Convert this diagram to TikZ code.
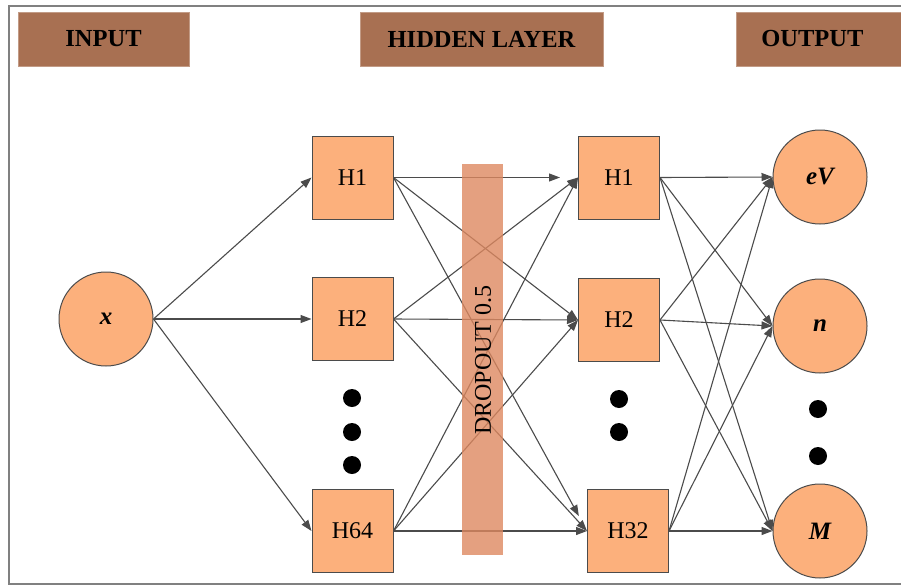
\documentclass[tikz,border=0pt]{standalone}
\usepackage{fontspec}
\setmainfont{Liberation Serif}
\usetikzlibrary{arrows.meta}
\definecolor{hdr}{RGB}{168,112,82}
\definecolor{nodefill}{RGB}{252,176,124}
\definecolor{barfill}{RGB}{221,136,96}
\definecolor{framegray}{RGB}{128,128,128}
\definecolor{linegray}{RGB}{75,75,75}
\tikzset{
  header/.style={fill=hdr, draw=hdr!70!white, line width=0.6pt, minimum height=54pt, inner sep=0pt, font=\fontsize{24.5}{26}\selectfont\bfseries, text=black},
  hbox/.style={rectangle, fill=nodefill, draw=linegray, line width=1pt, minimum width=81pt, minimum height=83pt, inner sep=0pt, font=\fontsize{24}{26}\selectfont},
  ocirc/.style={circle, fill=nodefill, draw=linegray, line width=1pt, minimum size=94pt, inner sep=0pt, font=\fontsize{25}{27}\selectfont\bfseries\itshape},
  conn/.style={draw=linegray, line width=1.1pt, -{Triangle[length=11pt,width=8pt]}},
  dotc/.style={circle, fill=black, minimum size=18pt, inner sep=0pt},
}
\begin{document}
\begin{tikzpicture}[x=1pt,y=-1pt]
\useasboundingbox (0,0) rectangle (901,586);
% frame
\draw[framegray, line width=2pt] (901,6) -- (9,6) -- (9,584) -- (901,584);
% headers
\node[header, minimum width=171pt] (hin) at (103.5,39) {INPUT};
\node[header, minimum width=243pt] (hhid) at (481.5,39) {HIDDEN LAYER};
\node[header, minimum width=170pt, anchor=west] (hout) at (736,39) {\hspace*{-18pt}OUTPUT};
% input
\node[ocirc] (x) at (106,319) {x};
% hidden layer 1
\node[hbox] (a1) at (352.5,177.5) {H1};
\node[hbox] (a2) at (352.5,319) {H2};
\node[hbox] (a3) at (352.5,531) {H64};
\node[dotc] (ad1) at (352,398) {};
\node[dotc] (ad2) at (352,432) {};
\node[dotc] (ad3) at (352,465) {};
% hidden layer 2
\node[hbox] (b1) at (619,177.5) {H1};
\node[hbox] (b2) at (619,320) {H2};
\node[hbox] (b3) at (628,531) {H32};
\node[dotc] (bd1) at (619,399) {};
\node[dotc] (bd2) at (619,432) {};
% output
\node[ocirc] (o1) at (820,177) {eV};
\node[ocirc] (o2) at (820,326) {n};
\node[ocirc] (o3) at (820,531) {M};
\node[dotc] (od1) at (818,409) {};
\node[dotc] (od2) at (818,456) {};
% input connectors
\foreach \t in {a1,a2,a3} \draw[conn] (x.east) -- (\t.west);
% hidden-hidden connectors
\draw[conn, shorten >=18pt] (a1.east) -- (b1.west);
\draw[conn] (a1.east) -- (b2.west);
\draw[conn, shorten >=17pt] (a1.east) -- (b3.west);
\foreach \s in {a2,a3} {
  \draw[conn] (\s.east) -- (b1.west);
  \draw[conn] (\s.east) -- (b2.west);
  \draw[conn] (\s.east) -- (b3.west);
}
% hidden-output connectors
\foreach \s in {b1,b2,b3} {
  \draw[conn] (\s.east) -- (o1.west);
  \draw[conn] (\s.east) -- (o2.west);
  \draw[conn] (\s.east) -- (o3.west);
}
% dropout bar
\node[rectangle, fill=barfill, fill opacity=0.8, draw=none, minimum width=41pt, minimum height=391pt, inner sep=0pt] (drop) at (482.5,359.5) {};
\node[rotate=90, font=\fontsize{24}{26}\selectfont] (droplabel) at (483,360) {DROPOUT 0.5};
\end{tikzpicture}
\end{document}
